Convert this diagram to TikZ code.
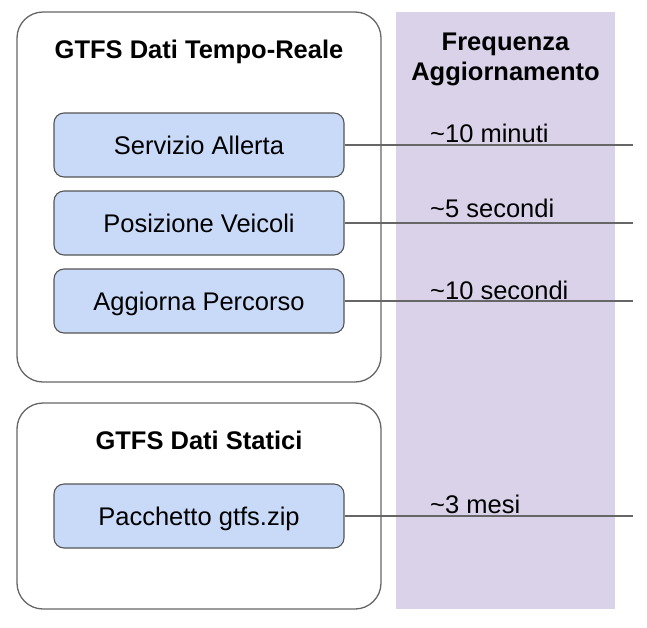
\documentclass[tikz,border=0pt]{standalone}
\usepackage{fontspec}
\setmainfont{Liberation Sans}
\usepackage{tikz}
\usetikzlibrary{positioning,calc,backgrounds}

\definecolor{colbg}{RGB}{218,210,233}
\definecolor{feedfill}{RGB}{201,218,248}
\definecolor{edgegray}{RGB}{102,102,102}
\definecolor{feededge}{RGB}{85,85,85}

\tikzset{
  txt/.style={font=\fontsize{25.5}{29}\selectfont, text height=18.3pt, text depth=0pt},
  bold/.style={txt, font=\fontsize{25.5}{29}\selectfont\bfseries},
  group/.style={draw=edgegray, line width=1.3pt, rounded corners=26pt, fill=white},
  feed/.style={txt, draw=feededge, line width=1.1pt, fill=feedfill, rounded corners=10pt,
    minimum width=290pt, minimum height=64pt, inner sep=0pt},
  link/.style={draw=edgegray, line width=1.5pt},
  freq/.style={font=\fontsize{25.5}{29}\selectfont, anchor=base west, inner sep=0pt}
}

\begin{document}
\begin{tikzpicture}[x=1pt, y=-1pt]
  \useasboundingbox (0,0) rectangle (647,627);
  % frequency column
  \fill[colbg] (396,12) rectangle (615,609);
  \node[bold] (freqtop) at (505.5,41) {Frequenza};
  \node[bold] (freqbot) at (505.5,71) {Aggiornamento};

  % realtime group
  \draw[group] (17,12) rectangle (381,382);
  \node[bold] (rttitle) at (199,49) {GTFS Dati Tempo-Reale};
  \node[feed] (alert) at (199,145) {Servizio Allerta};
  \node[feed] (vehicle) at (199,223) {Posizione Veicoli};
  \node[feed] (trip) at (199,301) {Aggiorna Percorso};

  % static group
  \draw[group] (17,403) rectangle (381,609);
  \node[bold] (sttitle) at (199,440) {GTFS Dati Statici};
  \node[feed] (package) at (199,516) {Pacchetto gtfs.zip};

  % links to the frequency column
  \coordinate (endalert) at (633,145);
  \coordinate (endvehicle) at (633,223);
  \coordinate (endtrip) at (633,301);
  \coordinate (endpackage) at (633,516);
  \draw[link] (alert.east) -- (endalert);
  \draw[link] (vehicle.east) -- (endvehicle);
  \draw[link] (trip.east) -- (endtrip);
  \draw[link] (package.east) -- (endpackage);

  \node[freq] (falert) at (430,142) {\textasciitilde10 minuti};
  \node[freq] (fvehicle) at (430,217) {\textasciitilde5 secondi};
  \node[freq] (ftrip) at (430,299) {\textasciitilde10 secondi};
  \node[freq] (fpackage) at (430,513) {\textasciitilde3 mesi};
\end{tikzpicture}
\end{document}
